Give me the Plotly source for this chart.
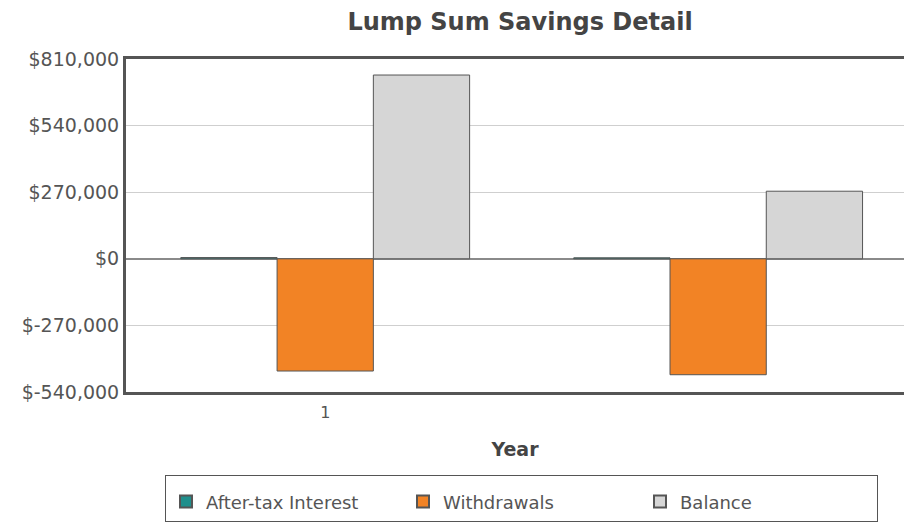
import plotly.graph_objects as go

years = ["1", "2"]
after_tax_interest = [5000, 4000]
withdrawals = [-455000, -470000]
balance = [745000, 274000]

y_tickvals = [-540000, -270000, 0, 270000, 540000, 810000]
y_ticktext = ["$-540,000", "$-270,000", "$0", "$270,000", "$540,000", "$810,000"]
x_tickvals = ["1"]
x_ticktext = ["1"]

FONT = "DejaVu Sans, Verdana, sans-serif"
line_col = "#555555"

fig = go.Figure()
fig.add_trace(go.Bar(name="After-tax Interest", x=years, y=after_tax_interest,
                     marker=dict(color="#1f8f8c", line=dict(color=line_col, width=1))))
fig.add_trace(go.Bar(name="Withdrawals", x=years, y=withdrawals,
                     marker=dict(color="#f28325", line=dict(color=line_col, width=1))))
fig.add_trace(go.Bar(name="Balance", x=years, y=balance,
                     marker=dict(color="#d6d6d6", line=dict(color=line_col, width=1))))

W, H = 904, 522
L, T, B = 126, 59, 128
fig.update_layout(
    width=W, height=H,
    margin=dict(l=L, r=0, t=T, b=B),
    paper_bgcolor="white", plot_bgcolor="white",
    barmode="group", bargap=0.265, bargroupgap=0,
    font=dict(family=FONT, color="#555555", size=16),
    title=dict(text="<b>Lump Sum Savings Detail</b>", x=(520 - L) / (W - L), xanchor="center",
               xref="paper", y=1 - 22 / H, yanchor="middle",
               font=dict(family=FONT, size=24, color="#444444")),
    showlegend=True,
    legend=dict(orientation="h", x=(165 - L) / (W - L), xanchor="left",
                y=-(477 - (H - B)) / (H - B - T), yanchor="top",
                bordercolor=line_col, borderwidth=1, entrywidth=192,
                font=dict(family=FONT, size=18, color="#555555"),
                title=dict(text=" ", side="top", font=dict(size=6)),
                itemsizing="constant"),
)
fig.update_xaxes(
    type="category", range=[-0.507, 1.473],
    tickvals=x_tickvals, ticktext=x_ticktext,
    showline=True, linecolor=line_col, linewidth=3, mirror=True,
    showgrid=False, ticks="", ticklabelstandoff=4,
    title=dict(text="<b>Year</b>", font=dict(family=FONT, size=19, color="#444444"), standoff=22),
    tickfont=dict(size=16, color="#555555"),
)
fig.update_yaxes(
    range=[-540000, 810000], tickvals=y_tickvals, ticktext=y_ticktext,
    showline=True, linecolor=line_col, linewidth=3, mirror=False,
    showgrid=True, gridcolor="#cfcfcf", gridwidth=1,
    zeroline=True, zerolinecolor="#8a8a8a", zerolinewidth=2,
    ticks="", tickfont=dict(size=19, color="#555555"),
)

fig.write_html("out.html", config={"displayModeBar": False},
               post_script="document.body.style.margin='0';document.body.style.overflow='hidden';")
